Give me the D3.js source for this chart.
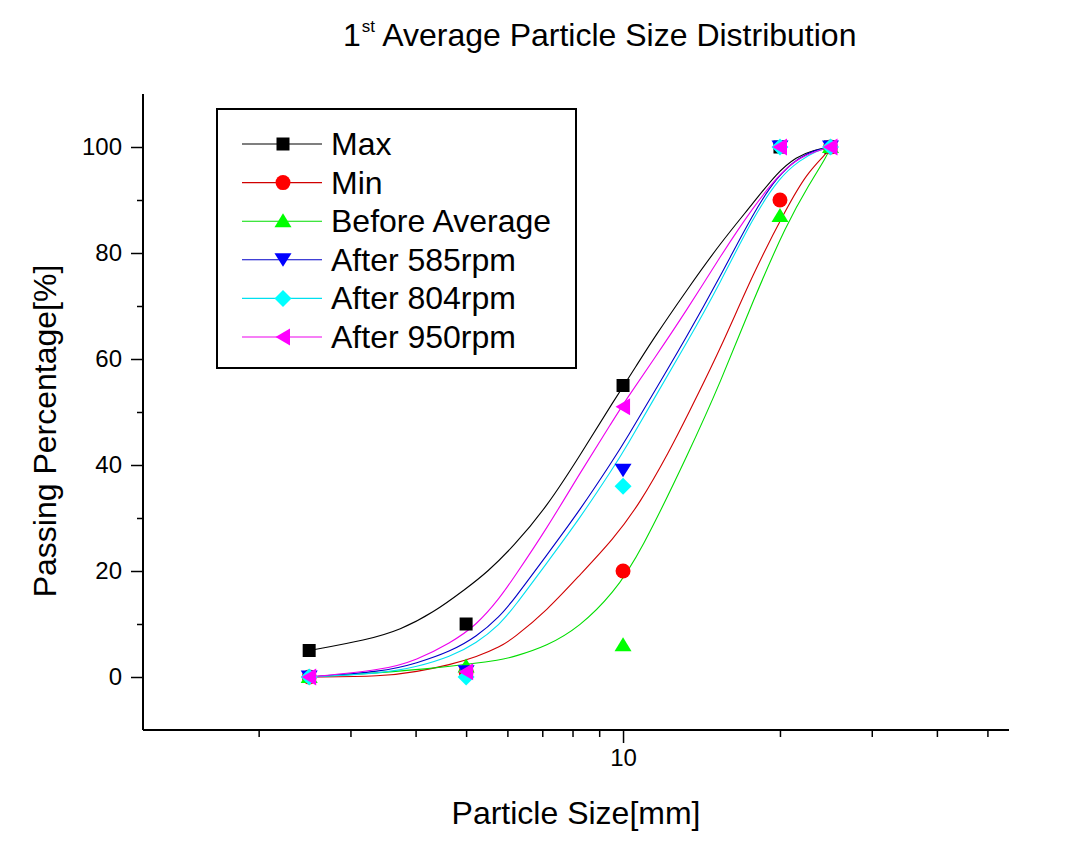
<!DOCTYPE html>
<html>
<head>
<meta charset="utf-8">
<script src="https://cdn.jsdelivr.net/npm/d3@7"></script>
<style>
  html, body { margin: 0; padding: 0; background: #fff; }
  svg { display: block; font-family: "Liberation Sans", Arial, sans-serif; }
</style>
</head>
<body>
<svg id="chart" width="1068" height="848"></svg>
<script>
// ---------------- data ----------------
const seriesNames = ["Max", "Min", "Before Average", "After 585rpm", "After 804rpm", "After 950rpm"];
const sizes = [2.5, 5, 10, 20, 25];
const maxValues    = [5, 10, 55, 100, 100];
const minValues    = [0, 1, 20, 90, 100];
const beforeValues = [0, 2, 6, 87, 100];
const rpm585Values = [0, 1, 39, 100, 100];
const rpm804Values = [0, 0, 36, 100, 100];
const rpm950Values = [0, 1, 51, 100, 100];

// fitted curves as [size, percent]
const fitMax = [[2.5,5.0],[3.23,7.0],[3.74,8.9],[4.32,12.1],[5.02,16.8],[5.49,19.8],[6.16,24.6],[7.14,32.1],[8.27,41.8],[9.58,52.0],[10.62,58.8],[11.43,63.8],[13.25,73.0],[15.35,81.8],[17.77,89.4],[19.71,95.1],[21.53,98.2],[23.17,99.4],[25,100]];
const fitMin = [[2.5,0],[3.47,0.1],[4.02,1.0],[4.66,2.3],[5.24,3.8],[5.81,5.7],[6.16,7.3],[7.14,12.5],[8.27,19.3],[9.58,26.0],[10.78,32.8],[12.3,42.8],[13.25,49.1],[15.35,61.7],[17.77,76.2],[20.6,88.5],[22.5,95.0],[24.58,98.8],[25,100]];
const fitBefore = [[2.5,0],[3.0,0.4],[4.32,1.6],[5.02,2.4],[5.81,3.2],[6.16,3.8],[7.14,5.8],[8.27,9.5],[9.58,15.8],[10.78,23.3],[13.44,42.8],[15.35,55.4],[17.77,71.1],[20.6,85.5],[22.8,93.1],[24.58,98.2],[25,100]];
const fit585 = [[2.5,0],[3.47,1.0],[4.02,2.6],[4.66,4.8],[5.24,7.6],[5.81,11.5],[6.16,14.5],[7.14,23.0],[8.27,31.5],[9.58,41.0],[10.16,45.0],[11.43,53.5],[13.25,64.2],[15.35,75.5],[17.77,87.5],[19.71,94.4],[21.85,98.2],[23.5,99.5],[25,100]];
const fit804 = [[2.5,0],[3.47,0.7],[4.02,1.9],[4.66,3.8],[5.24,6.4],[5.81,10.0],[6.16,13.0],[7.14,21.5],[8.27,30.0],[9.58,39.5],[10.16,43.5],[11.43,52.3],[13.25,63.0],[15.35,74.3],[17.77,86.8],[20.0,94.4],[21.85,97.5],[23.5,99.3],[25,100]];
const fit950 = [[2.5,0],[3.47,1.3],[4.02,3.2],[4.66,6.4],[5.24,9.8],[5.81,15.0],[6.16,18.6],[7.14,28.0],[8.27,38.5],[9.58,48.5],[10.16,52.5],[11.43,59.8],[13.25,69.2],[15.35,79.3],[17.77,88.7],[20.0,95.0],[21.85,98.2],[24.58,99.8],[25,100]];

const xMajorTicks = [10];
const xMinorTicks = [2, 3, 4, 5, 6, 7, 8, 9, 20, 30, 40, 50];
const yMajorTicks = [0, 20, 40, 60, 80, 100];
const yMinorTicks = [10, 30, 50, 70, 90];

const titleMain = "1";
const titleSup = "st";
const titleRest = " Average Particle Size Distribution";
const xTitle = "Particle Size[mm]";
const yTitle = "Passing Percentage[%]";

// ---------------- styling ----------------
const markerColors = ["#000000", "#ff0000", "#00ff00", "#0000ff", "#00ffff", "#ff00ff"];
const lineColors   = ["#000000", "#d00000", "#00dd00", "#0000c8", "#00e0f0", "#ee00ee"];
const shapes = ["square", "circle", "up", "down", "diamond", "left"];

const series = seriesNames.map((name, i) => ({
  name,
  values: [maxValues, minValues, beforeValues, rpm585Values, rpm804Values, rpm950Values][i],
  fit: [fitMax, fitMin, fitBefore, fit585, fit804, fit950][i],
  marker: markerColors[i],
  line: lineColors[i],
  shape: shapes[i]
}));

const svg = d3.select("#chart");
const x = d3.scaleLog().domain([1.2, 55]).range([143, 1009]);
const y = d3.scaleLinear().domain([-10, 110]).range([730, 94]);

function shapePath(shape) {
  switch (shape) {
    case "square":  return "M-6.5,-6.5H6.5V6.5H-6.5Z";
    case "circle":  return d3.symbol(d3.symbolCircle, Math.PI * 7.5 * 7.5)();
    case "up":      return "M0,-8L8.5,6L-8.5,6Z";
    case "down":    return "M0,7L8.5,-6.5L-8.5,-6.5Z";
    case "diamond": return "M0,-8.5L8.5,0L0,8.5L-8.5,0Z";
    case "left":    return "M-7.5,0L7,-8.5L7,8.5Z";
  }
}

const FONT = "Liberation Sans, Arial, sans-serif";

// axes
const axisG = svg.append("g");
axisG.append("g")
  .attr("transform", "translate(0,730)")
  .call(d3.axisBottom(x).tickValues(xMajorTicks).tickSize(13).tickSizeOuter(0).tickFormat(d3.format("d")))
  .call(g => g.select(".domain").attr("stroke-width", 2).attr("d", `M${x.range()[0]},0H${x.range()[1]}`))
  .call(g => g.selectAll(".tick line").attr("stroke-width", 1.5))
  .call(g => g.selectAll(".tick text").attr("font-size", 24).attr("font-family", FONT).attr("dy", "0.85em").attr("fill", "#000"));
axisG.append("g")
  .attr("transform", "translate(0,730)")
  .call(d3.axisBottom(x).tickValues(xMinorTicks).tickSize(7).tickSizeOuter(0).tickFormat(""))
  .call(g => g.select(".domain").remove())
  .call(g => g.selectAll(".tick line").attr("stroke-width", 1.5));

axisG.append("g")
  .attr("transform", "translate(143,0)")
  .call(d3.axisLeft(y).tickValues(yMajorTicks).tickSize(12).tickSizeOuter(0))
  .call(g => g.select(".domain").attr("stroke-width", 2).attr("d", `M0,${y.range()[0]}V${y.range()[1]}`))
  .call(g => g.selectAll(".tick line").attr("stroke-width", 1.5))
  .call(g => g.selectAll(".tick text").attr("font-size", 24).attr("font-family", FONT).attr("x", -21).attr("fill", "#000"));
axisG.append("g")
  .attr("transform", "translate(143,0)")
  .call(d3.axisLeft(y).tickValues(yMinorTicks).tickSize(6).tickSizeOuter(0).tickFormat(""))
  .call(g => g.select(".domain").remove())
  .call(g => g.selectAll(".tick line").attr("stroke-width", 1.5));

// curves
const line = d3.line().x(d => x(d[0])).y(d => y(d[1])).curve(d3.curveBasis);
svg.append("g").selectAll("path")
  .data(series)
  .join("path")
  .attr("d", s => line(s.fit))
  .attr("fill", "none")
  .attr("stroke", s => s.line)
  .attr("stroke-width", 1.1);

// markers
series.forEach(s => {
  svg.append("g").selectAll("path")
    .data(s.values.map((v, i) => [sizes[i], v]))
    .join("path")
    .attr("transform", d => `translate(${x(d[0])},${y(d[1])})`)
    .attr("d", shapePath(s.shape))
    .attr("fill", s.marker);
});

// title
const t = svg.append("text").attr("x", 343).attr("y", 46).attr("font-size", 32).attr("fill", "#000");
t.append("tspan").text(titleMain);
t.append("tspan").attr("font-size", 17).attr("dy", -14).attr("dx", 1).text(titleSup);
t.append("tspan").attr("dy", 14).text(titleRest);

// axis titles
svg.append("text").attr("x", 576).attr("y", 824).attr("text-anchor", "middle")
  .attr("font-size", 32).attr("fill", "#000").text(xTitle);
svg.append("text").attr("transform", "translate(56,431) rotate(-90)").attr("text-anchor", "middle")
  .attr("font-size", 32).attr("fill", "#000").text(yTitle);

// legend
const legend = svg.append("g");
legend.append("rect").attr("x", 217).attr("y", 109).attr("width", 359).attr("height", 259)
  .attr("fill", "#fff").attr("stroke", "#000").attr("stroke-width", 2);
const rowY = d3.scalePoint().domain(seriesNames).range([144, 337]);
series.forEach(s => {
  const yy = rowY(s.name);
  legend.append("line").attr("x1", 242).attr("x2", 322).attr("y1", yy).attr("y2", yy)
    .attr("stroke", s.line).attr("stroke-width", 1.1);
  legend.append("path").attr("transform", `translate(283,${yy})`).attr("d", shapePath(s.shape)).attr("fill", s.marker);
  legend.append("text").attr("x", 331).attr("y", yy + 11).attr("font-size", 32).attr("fill", "#000").text(s.name);
});
</script>
</body>
</html>
